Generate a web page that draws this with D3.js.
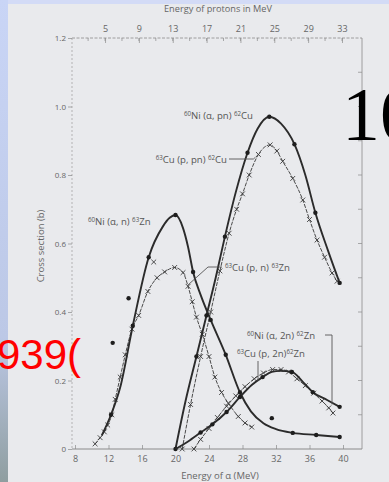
<!DOCTYPE html>
<html>
<head>
<meta charset="utf-8">
<script src="https://cdn.jsdelivr.net/npm/d3@7"></script>
<style>
  html,body{margin:0;padding:0;background:#e9eaed;}
  svg{display:block;}
</style>
</head>
<body>
<svg id="chart" width="389" height="482"></svg>
<script>
// ---------- data ----------
const energyTicks = [8, 12, 16, 20, 24, 28, 32, 36, 40];
const protonTicks = [5, 9, 13, 17, 21, 25, 29, 33];
const sigmaTicks = [0, 0.2, 0.4, 0.6, 0.8, 1.0, 1.2];

// 60Ni(α,n)63Zn  (solid, dots)
const niAnLine = [[11.2,0.04],[12.3,0.10],[13.4,0.18],[14.9,0.36],[16.8,0.56],[18.5,0.65],[19.3,0.675],[20,0.683],[20.9,0.645],[21.5,0.59],[22.1,0.517],[23.0,0.45],[24.2,0.377],[26,0.275],[27.7,0.165],[29,0.11],[30.5,0.075],[32,0.058],[34,0.047],[36.8,0.041],[39.6,0.035]];
const niAnDots = [[12.3,0.10],[14.9,0.36],[16.8,0.56],[20,0.683],[22.1,0.517],[24.2,0.377],[26,0.275],[27.7,0.165],[34,0.047],[36.8,0.041],[39.6,0.035]];
const niAnOutliers = [[12.5,0.31],[14.4,0.44],[31.5,0.09]];

// 63Cu(p,n)63Zn  (x markers)
const cuPn = [[10.4,0.015],[11.0,0.033],[11.5,0.05],[11.9,0.07],[12.4,0.10],[12.8,0.145],[13.4,0.21],[14.0,0.275],[14.8,0.35],[15.6,0.39],[16.7,0.46],[17.8,0.50],[18.7,0.517],[19.9,0.53],[20.9,0.515],[21.5,0.475],[22.0,0.43],[22.5,0.385],[23.2,0.335],[24.0,0.27],[24.7,0.21],[25.5,0.165],[26.3,0.134],[27.5,0.095],[28.3,0.076],[29.1,0.064]];
const cuPnOutliers = [[17.4,0.546]];

// 60Ni(α,pn)62Cu  (solid, dots)
const niApn = [[20,0],[21.2,0.14],[22.5,0.27],[23.7,0.39],[24.8,0.50],[25.9,0.62],[27.2,0.75],[28.6,0.865],[29.8,0.935],[31.2,0.97],[32.6,0.95],[34.2,0.89],[35.5,0.80],[36.7,0.69],[38.2,0.58],[39.6,0.485]];
const niApnDots = [[20,0],[22.5,0.27],[23.7,0.39],[25.9,0.62],[28.6,0.865],[31.2,0.97],[34.2,0.89],[36.7,0.69],[39.6,0.485]];

// 63Cu(p,pn)62Cu  (x markers)
const cuPpn = [[20.8,0],[21.8,0.13],[23.0,0.27],[24.2,0.40],[25.3,0.52],[26.4,0.63],[27.3,0.70],[28.0,0.745],[28.8,0.80],[29.9,0.86],[31.3,0.888],[32.1,0.87],[32.8,0.84],[34.0,0.79],[35.2,0.727],[36.0,0.67],[36.9,0.61],[37.8,0.56],[38.7,0.514],[39.3,0.49]];

// 60Ni(α,2n)62Zn  (solid, dots)
const niA2n = [[20,0],[21.5,0.022],[23.0,0.048],[24.4,0.072],[26.1,0.108],[27.7,0.152],[29.1,0.187],[30.4,0.21],[31.5,0.225],[32.5,0.228],[33.9,0.225],[35.2,0.196],[36.4,0.166],[38.1,0.143],[39.6,0.123]];
const niA2nDots = [[23.0,0.048],[24.4,0.072],[26.1,0.108],[27.7,0.152],[30.4,0.21],[33.9,0.225],[36.4,0.166],[39.6,0.123]];

// 63Cu(p,2n)62Zn  (x markers)
const cuP2n = [[22.2,0],[23.0,0.028],[24.0,0.06],[25.0,0.092],[26.1,0.125],[27.2,0.155],[28.3,0.182],[29.4,0.205],[30.5,0.222],[31.6,0.232],[32.6,0.232],[33.5,0.225],[34.5,0.205],[35.5,0.185],[36.5,0.163],[37.5,0.14],[38.3,0.12],[38.8,0.105]];

// ---------- drawing ----------
const svg = d3.select("#chart");
const W = 389, H = 482;
const x = d3.scaleLinear().domain([8, 40]).range([75, 343]);
const xp = d3.scaleLinear().domain([1.45, 33.12]).range([75, 343]);
const y = d3.scaleLinear().domain([0, 1.2]).range([449, 38]);
const X0 = 72, X1 = 362, Y0 = 449, Y1 = 38;

// page background + blue frame
const defs = svg.append("defs");
const g1 = defs.append("linearGradient").attr("id","leftband").attr("x1",0).attr("y1",0).attr("x2",0).attr("y2",1);
g1.append("stop").attr("offset","0%").attr("stop-color","#c9d5f6");
g1.append("stop").attr("offset","70%").attr("stop-color","#bcc8e6");
g1.append("stop").attr("offset","100%").attr("stop-color","#8f9ea0");
svg.append("rect").attr("width",W).attr("height",H).attr("fill","#e9eaed");
svg.append("rect").attr("x",0).attr("y",0).attr("width",W).attr("height",4).attr("fill","#d3dbf6");
svg.append("rect").attr("x",0).attr("y",0).attr("width",8).attr("height",H).attr("fill","url(#leftband)");

const axisColor = "#8a8a8a";
const textColor = "#666";
const FONT = "'Open Sans', sans-serif";

// frame
svg.append("line").attr("x1",X0).attr("x2",X1).attr("y1",Y1).attr("y2",Y1)
  .attr("stroke",axisColor).attr("stroke-width",0.8).attr("stroke-dasharray","3,1.5");
svg.append("line").attr("x1",X1).attr("x2",X1).attr("y1",Y1).attr("y2",Y0)
  .attr("stroke",axisColor).attr("stroke-width",0.8);
svg.append("line").attr("x1",X0).attr("x2",X0).attr("y1",Y1).attr("y2",Y0)
  .attr("stroke","#a5a5a5").attr("stroke-width",0.8).attr("stroke-dasharray","2,2");

// bottom axis
const axB = svg.append("g").attr("transform",`translate(0,${Y0})`)
  .call(d3.axisBottom(x).tickValues(energyTicks).tickSizeInner(-4).tickSizeOuter(0).tickPadding(7).tickFormat(d3.format("d")));
axB.select(".domain").attr("d",`M${X0},0H${X1}`).attr("stroke",axisColor);

// left axis
const axL = svg.append("g").attr("transform",`translate(${X0},0)`)
  .call(d3.axisLeft(y).tickValues(sigmaTicks).tickSize(4).tickPadding(2).tickFormat(d => d === 0 ? "0" : d.toFixed(1)));
axL.select(".domain").remove();

// top axis (protons)
const axT = svg.append("g").attr("transform",`translate(0,${Y1})`)
  .call(d3.axisTop(xp).tickValues(protonTicks).tickSizeInner(-5).tickSizeOuter(0).tickPadding(6).tickFormat(d3.format("d")));
axT.select(".domain").remove();
svg.append("g").selectAll("line").data(d3.range(3, 34, 2))
  .join("line").attr("x1",d=>xp(d)).attr("x2",d=>xp(d)).attr("y1",Y1).attr("y2",Y1+3)
  .attr("stroke",axisColor).attr("stroke-width",0.7);

// right inward ticks
svg.append("g").selectAll("line").data(d3.range(1, 12).map(i => i/10))
  .join("line").attr("x1",X1-4).attr("x2",X1).attr("y1",d=>y(d)).attr("y2",d=>y(d))
  .attr("stroke",axisColor).attr("stroke-width",0.7);

[axB, axL, axT].forEach(g => {
  g.selectAll(".tick line").attr("stroke",axisColor).attr("stroke-width",0.7);
  g.selectAll(".tick text").attr("fill",textColor).attr("font-family",FONT).attr("font-size",9);
});
axL.selectAll(".tick text").attr("font-size",8);

// axis titles
svg.append("text").attr("x",218).attr("y",12).attr("text-anchor","middle")
  .attr("font-family",FONT).attr("font-size",9.2).attr("fill",textColor)
  .text("Energy of protons in MeV");
svg.append("text").attr("x",220).attr("y",479).attr("text-anchor","middle")
  .attr("font-family",FONT).attr("font-size",9.5).attr("fill",textColor)
  .text("Energy of α (MeV)");
svg.append("text").attr("transform","translate(44,246) rotate(-90)").attr("text-anchor","middle")
  .attr("font-family",FONT).attr("font-size",9.5).attr("fill",textColor)
  .text("Cross section (b)");

// curves
const line = d3.line().x(d=>x(d[0])).y(d=>y(d[1])).curve(d3.curveMonotoneX);
const plot = svg.append("g");
function solid(data){
  plot.append("path").datum(data).attr("d",line).attr("fill","none")
    .attr("stroke","#2b2b2b").attr("stroke-width",1.9).attr("stroke-linejoin","round");
}
function thin(data){
  plot.append("path").datum(data).attr("d",line).attr("fill","none")
    .attr("stroke","#4a4a4a").attr("stroke-width",1.0).attr("stroke-dasharray","4,1.2");
}
function dots(data){
  plot.append("g").selectAll("circle").data(data).join("circle")
    .attr("cx",d=>x(d[0])).attr("cy",d=>y(d[1])).attr("r",2.2).attr("fill","#1e1e1e");
}
function crosses(data){
  const s = 2.4;
  plot.append("g").selectAll("path").data(data).join("path")
    .attr("d",d=>{const cx=x(d[0]), cy=y(d[1]);return `M${cx-s},${cy-s}L${cx+s},${cy+s}M${cx-s},${cy+s}L${cx+s},${cy-s}`;})
    .attr("stroke","#3a3a3a").attr("stroke-width",0.9).attr("fill","none");
}
thin(cuPn); crosses(cuPn); crosses(cuPnOutliers);
thin(cuPpn); crosses(cuPpn);
thin(cuP2n); crosses(cuP2n);
solid(niAnLine); dots(niAnDots); dots(niAnOutliers);
solid(niApn); dots(niApnDots);
solid(niA2n); dots(niA2nDots);

// curve labels (superscript mass numbers as smaller raised tspans)
const lab = svg.append("g").attr("font-family",FONT).attr("fill","#555");
function label(px, py, parts, anchor){
  const t = lab.append("text").attr("x",px).attr("y",py).attr("font-size",9.6).attr("text-anchor",anchor||"start");
  let raised = false;
  parts.forEach(p => {
    const sup = p[0] === "^";
    const dy = sup ? (raised ? 0 : -3.3) : (raised ? 3.3 : 0);
    const ts = t.append("tspan").attr("dy",dy).text(sup ? p.slice(1) : p);
    if (sup) ts.attr("font-size",6.2);
    raised = sup;
  });
  return t;
}
label(88, 225, ["^60", "Ni (α, n) ", "^63", "Zn"]);
label(184, 119, ["^60", "Ni (α, pn) ", "^62", "Cu"]);
label(227, 163, ["^63", "Cu (p, pn) ", "^62", "Cu"], "end");
label(225, 271, ["^63", "Cu (p, n) ", "^63", "Zn"]);
label(247, 339, ["^60", "Ni (α, 2n) ", "^62", "Zn"]);
label(237, 357, ["^63", "Cu (p, 2n)", "^62", "Zn"]);

// leader lines
const lead = svg.append("g").attr("fill","none").attr("stroke","#555").attr("stroke-width",0.9);
lead.append("polyline").attr("points",`229,159 ${x(29.3)},159 ${x(29.55)},${y(0.852)}`);
lead.append("polyline").attr("points",`222,267 208,267 ${x(21.45)},${y(0.478)}`);
lead.append("polyline").attr("points",`325,335 332,335 332,${y(0.13)}`);
lead.append("polyline").attr("points",`258,361 258,${y(0.2)}`);

// overlay texts from the slide
svg.append("text").attr("x",342).attr("y",140).attr("font-family","'Liberation Serif', serif")
  .attr("font-size",76).attr("fill","#000").text("10");
svg.append("text").attr("x",-3).attr("y",369).attr("font-family","'Liberation Sans', Arial, sans-serif")
  .attr("font-size",42).attr("fill","#ff0000").text("939(");
</script>
</body>
</html>
